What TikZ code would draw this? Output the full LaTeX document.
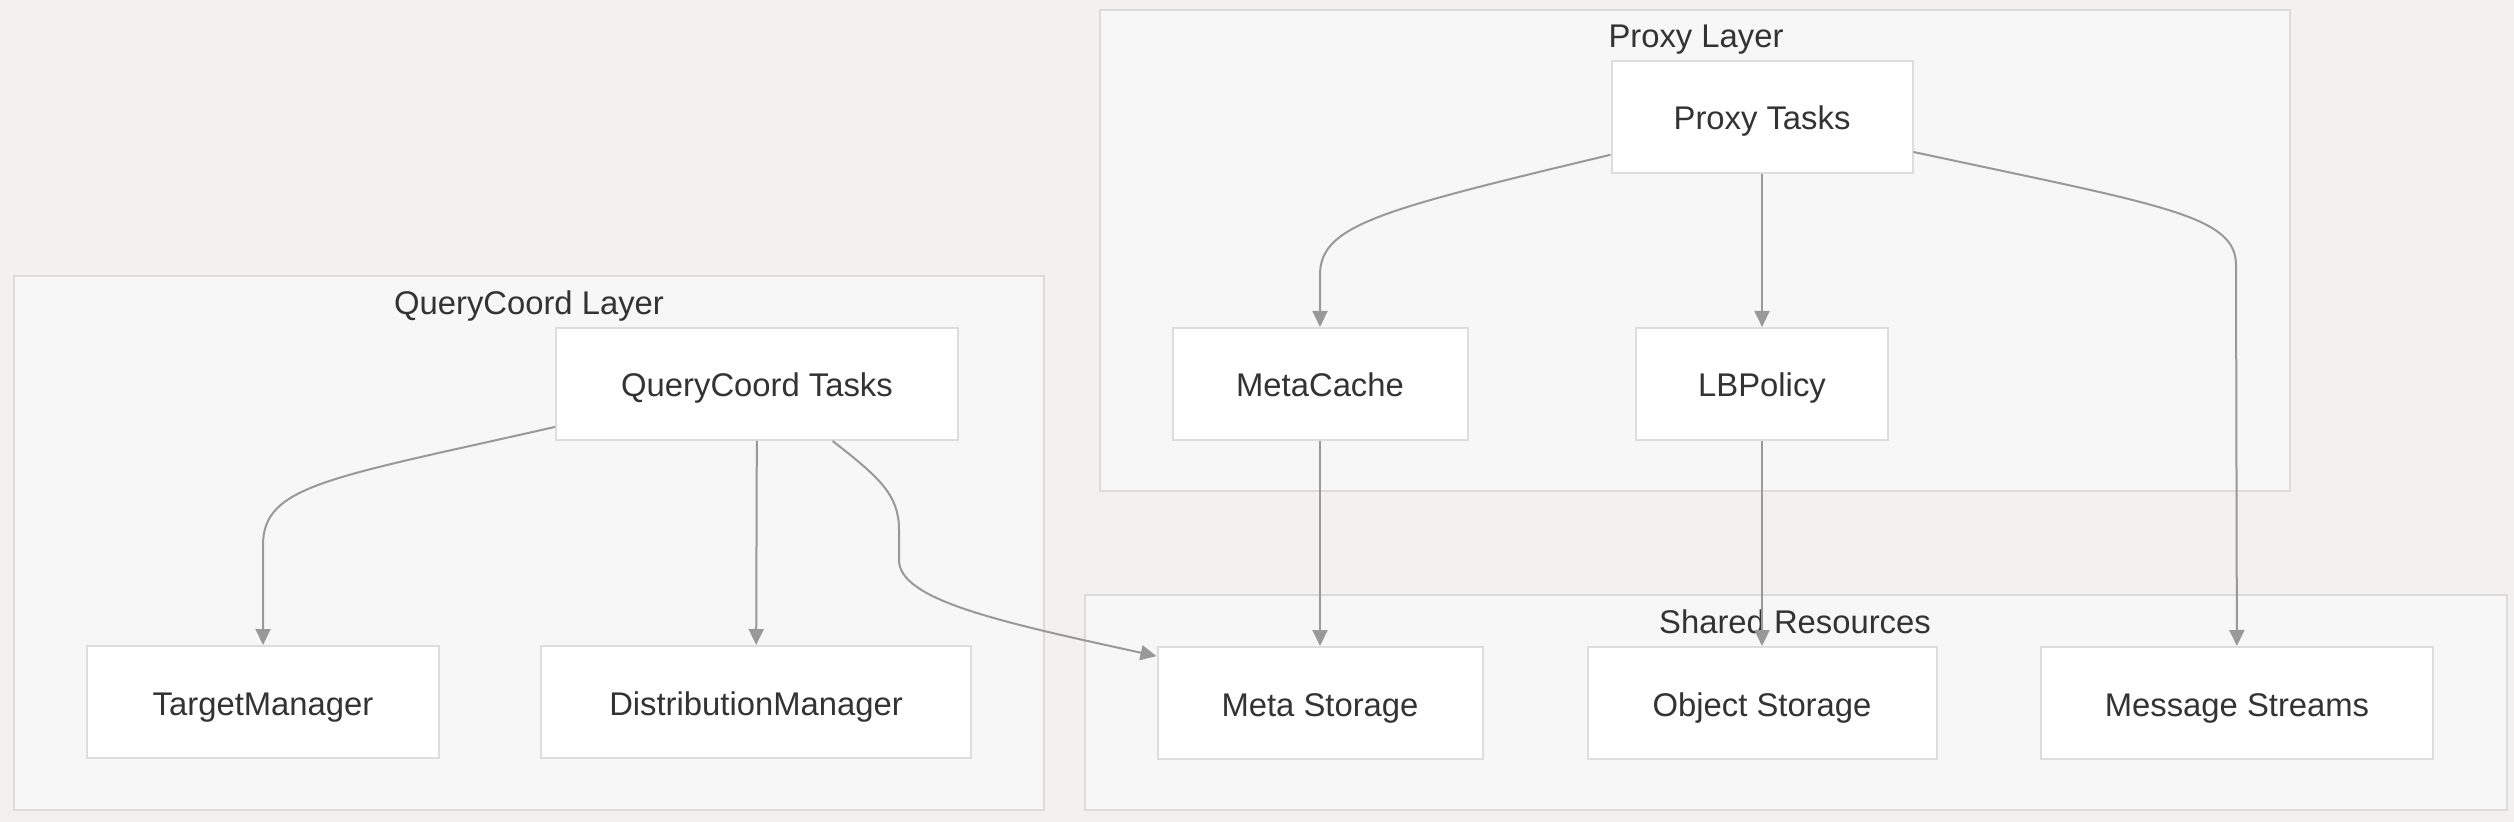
\documentclass[tikz,border=0pt]{standalone}
\usepackage{fontspec}
\setmainfont{Liberation Sans}
\usepackage{xcolor}
\usetikzlibrary{arrows.meta}
\definecolor{bgcol}{HTML}{F2F1EF}
\definecolor{clusterfill}{HTML}{F7F7F7}
\definecolor{clusterline}{HTML}{DCDCDC}
\definecolor{boxline}{HTML}{DDDDDD}
\definecolor{edgecol}{HTML}{999999}
\definecolor{textcol}{HTML}{333333}

\begin{document}
\begin{tikzpicture}[x=0.5pt,y=-0.5pt,
  cluster/.style={fill=clusterfill,draw=clusterline,line width=1pt},
  layertitle/.style={anchor=base,inner sep=0pt,text=textcol,font=\fontsize{16.4}{20}\selectfont},
  box/.style={draw=boxline,fill=white,line width=1pt,minimum height=56pt,inner sep=0pt,text height=13pt,text depth=0pt,text=textcol,font=\fontsize{16.4}{20}\selectfont},
  edge/.style={draw=edgecol,line width=1pt,-{Triangle[length=8pt,width=7.5pt]}}]
\fill[bgcol] (0,0) rectangle (2514,822);
\draw[cluster] (14,276) rectangle (1044,810);
\draw[cluster] (1100,10) rectangle (2290,491);
\draw[cluster] (1085,595) rectangle (2507,810);
\node[layertitle] (qctitle) at (529,315) {QueryCoord Layer};
\node[layertitle] (pxtitle) at (1696,48) {Proxy Layer};
\node[layertitle] (shtitle) at (1795,633) {Shared Resources};
\node[box,minimum width=201pt] (qct) at (757,384) {QueryCoord Tasks};
\node[box,minimum width=176pt] (tm) at (263,702) {TargetManager};
\node[box,minimum width=215pt] (dm) at (756,702) {DistributionManager};
\node[box,minimum width=150.5pt] (pt) at (1762,117) {Proxy Tasks};
\node[box,minimum width=147.5pt] (mc) at (1320,384) {MetaCache};
\node[box,minimum width=126pt] (lb) at (1762,384) {LBPolicy};
\node[box,minimum width=162.5pt] (ms) at (1320,703) {Meta Storage};
\node[box,minimum width=174.5pt] (os) at (1762,703) {Object Storage};
\node[box,minimum width=196pt] (mst) at (2237,703) {Message Streams};
\draw[edge] (qct.192) .. controls (330,478) and (263,485) .. (263,545) -- (tm);
\draw[edge] (qct) -- (dm);
\draw[edge] (qct.-37) .. controls (880,478) and (899,495) .. (899,530) -- (899,560) .. controls (899,600) and (1000,622) .. (ms.164);
\draw[edge] (pt.194) .. controls (1380,210) and (1320,225) .. (1320,275) -- (mc);
\draw[edge] (pt) -- (lb);
\draw[edge] (pt.-13) .. controls (2160,205) and (2236,215) .. (2236,265) -- (mst);
\draw[edge] (mc) -- (ms);
\draw[edge] (lb) -- (os);
\end{tikzpicture}
\end{document}
